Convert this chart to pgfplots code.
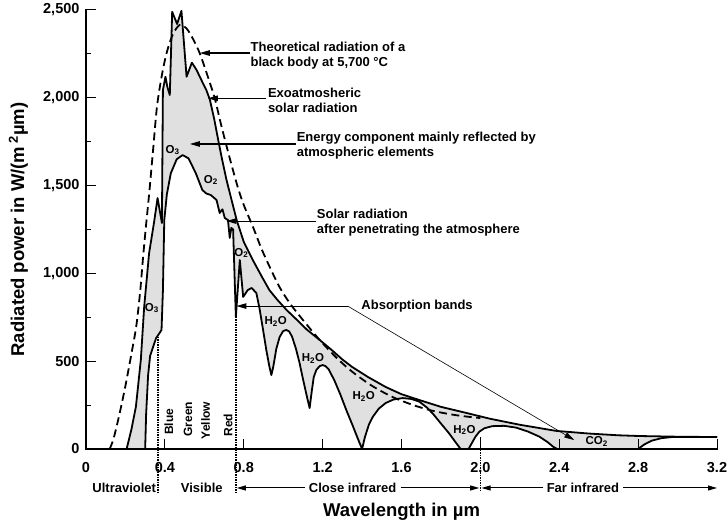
\documentclass[border=0pt]{standalone}
\usepackage{fontspec}
\setmainfont{Liberation Sans}
\usepackage{pgfplots}
\usepackage{pgfplotstable}
\pgfplotsset{compat=1.18}
\usepgfplotslibrary{fillbetween}
\usetikzlibrary{arrows.meta}
\definecolor{fillg}{RGB}{224,224,224}
\newcommand{\annfont}{\fontsize{13}{15}\selectfont\bfseries}
\newcommand{\chemfont}{\fontsize{11.5}{13}\selectfont\bfseries}
\newcommand{\colfont}{\fontsize{12}{14}\selectfont\bfseries}

% exoatmospheric solar radiation
\pgfplotstableread{
x y
0.206 0
0.23 110
0.253 240
0.278 507
0.295 809
0.32 1115
0.345 1290
0.363 1429
0.385 1287
0.39 2044
0.403 2120
0.413 2060
0.425 2016
0.437 2490
0.462 2420
0.484 2495
0.492 2380
0.51 2120
0.537 2200
0.56 2160
0.59 2090
0.61 2045
0.628 1990
0.65 1880
0.673 1745
0.69 1650
0.712 1535
0.74 1410
0.765 1300
0.80 1180
0.846 1076
0.89 985
0.93 905
0.97 850
1.017 792
1.07 735
1.12 680
1.185 621
1.25 560
1.30 510
1.35 467
1.43 410
1.52 353
1.60 312
1.69 279
1.80 240
1.93 205
2.05 172
2.2 138
2.385 103
2.55 88
2.7 78
2.805 74
3.0 70
3.2 68
}\exotab

% solar radiation after penetrating the atmosphere
\pgfplotstableread{
x y
0.30 0
0.305 200
0.315 420
0.325 530
0.355 630
0.383 678
0.39 900
0.397 1304
0.41 1450
0.43 1570
0.46 1650
0.49 1674
0.52 1655
0.557 1570
0.59 1475
0.61 1455
0.633 1446
0.662 1418
0.678 1344
0.692 1365
0.704 1315
0.72 1304
0.729 1202
0.737 1259
0.746 1250
0.76 752
0.78 1076
0.797 866
0.82 905
0.84 917
0.864 888
0.88 800
0.898 678
0.915 560
0.93 470
0.94 421
0.95 470
0.965 570
0.982 638
1.0 672
1.016 678
1.03 670
1.045 640
1.065 570
1.083 490
1.10 400
1.12 300
1.134 233
1.145 330
1.155 410
1.168 450
1.185 472
1.2 478
1.215 472
1.23 455
1.26 390
1.29 310
1.32 222
1.35 140
1.38 55
1.40 0
1.415 70
1.435 140
1.455 184
1.485 230
1.52 262
1.56 282
1.606 290
1.65 285
1.69 270
1.73 235
1.76 200
1.80 145
1.84 91
1.87 45
1.90 0
1.94 0
1.955 30
1.975 70
1.995 99
2.02 118
2.06 130
2.12 132
2.18 122
2.24 100
2.30 70
2.34 40
2.37 12
2.39 0
2.80 0
2.83 25
2.87 48
2.92 62
2.97 68
3.2 68
}\surftab

% theoretical black body
\pgfplotstableread{
x y
0.12 0
0.14 60
0.17 200
0.2 360
0.23 540
0.255 700
0.275 900
0.29 1100
0.305 1280
0.32 1450
0.34 1700
0.36 1950
0.385 2130
0.41 2260
0.44 2360
0.475 2415
0.51 2395
0.545 2330
0.577 2253
0.615 2130
0.653 1997
0.68 1870
0.709 1741
0.74 1610
0.77 1490
0.80 1390
0.847 1264
0.89 1140
0.932 1036
0.98 925
1.033 831
1.10 735
1.185 621
1.27 520
1.35 440
1.45 360
1.555 296
1.66 250
1.76 217
1.88 192
2.0 176
}\bbtab

\begin{document}
\begin{tikzpicture}
\begin{axis}[
  scale only axis, width=631pt, height=439pt,
  xmin=0, xmax=3.2, ymin=0, ymax=2500,
  axis lines*=left,
  axis line style={line width=2pt, line cap=rect},
  axis on top, clip=false,
  xtick={0,0.4,0.8,1.2,1.6,2.0,2.4,2.8,3.2},
  xticklabels={0,0.4,0.8,1.2,1.6,2.0,2.4,2.8,3.2},
  ytick={0,500,1000,1500,2000,2500},
  yticklabels={0,500,{1,000},{1,500},{2,000},{2,500}},
  minor ytick={250,750,1250,1750,2250},
  tick align=inside,
  major tick length=10pt, minor tick length=5pt,
  tick style={line width=1pt, black},
  ticklabel style={font=\fontsize{14.5}{16}\selectfont\bfseries},
  xticklabel style={yshift=-10pt},
  yticklabel style={xshift=-3pt},
  xlabel={Wavelength in µm},
  ylabel={Radiated power in W/(m\,\textsuperscript{2}µm)},
  every axis x label/.style={at={(axis description cs:0.5,0)}, anchor=base, yshift=-67.5pt, font=\fontsize{18.5}{20}\selectfont\bfseries},
  every axis y label/.style={at={(axis description cs:-0.107,0.5)}, rotate=90, anchor=center, font=\fontsize{18.5}{20}\selectfont\bfseries},
]
\addplot[draw=none, name path=exo] table {\exotab};
\addplot[draw=none, name path=surf] table {\surftab};
\addplot[fill=fillg, draw=none] fill between[of=exo and surf];
\addplot[black, line width=1.8pt, line join=round] table {\exotab};
\addplot[black, line width=1.8pt, line join=round] table {\surftab};
\addplot[black, line width=1.8pt, smooth, dash pattern=on 8pt off 4.5pt] table {\bbtab};

% dotted boundaries
\draw[black, line width=1.5pt, densely dotted] (axis cs:0.366,640) -- (axis cs:0.366,-245);
\draw[black, line width=1.5pt, densely dotted] (axis cs:0.76,752) -- (axis cs:0.76,-245);
\draw[black, line width=1.5pt, densely dotted] (axis cs:2.0,68) -- (axis cs:2.0,-245);

% annotations with arrows
\tikzset{ann/.style={line width=1.1pt, -{Triangle[length=10pt,width=5.5pt]}}}
\draw[ann] (axis cs:0.83,2255) -- (axis cs:0.577,2255);
\node[anchor=west, inner sep=0, align=left, font=\annfont] at (axis cs:0.834,2241) {Theoretical radiation of a\\black body at 5,700 °C};
\draw[ann] (axis cs:0.914,1997) -- (axis cs:0.618,1997);
\node[anchor=west, inner sep=0, align=left, font=\annfont] at (axis cs:0.922,1987) {Exoatmosheric\\solar radiation};
\draw[ann] (axis cs:1.063,1737) -- (axis cs:0.527,1737);
\node[anchor=west, inner sep=0, align=left, font=\annfont] at (axis cs:1.068,1728) {Energy component mainly reflected by\\atmospheric elements};
\draw[ann] (axis cs:1.168,1298) -- (axis cs:0.712,1298);
\node[anchor=west, inner sep=0, align=left, font=\annfont] at (axis cs:1.17,1287) {Solar radiation\\after penetrating the atmosphere};
\draw[ann] (axis cs:1.327,814) -- (axis cs:0.763,814);
\draw[line width=0.6pt, -{Triangle[length=10pt,width=5.5pt]}] (axis cs:1.327,814) -- (axis cs:2.476,51);
\node[anchor=west, inner sep=0, font=\annfont] at (axis cs:1.396,814) {Absorption bands};

% chemical labels
\node[font=\chemfont] at (axis cs:0.439,1703) {O\textsubscript{3}};
\node[font=\chemfont] at (axis cs:0.633,1532) {O\textsubscript{2}};
\node[font=\chemfont] at (axis cs:0.334,803) {O\textsubscript{3}};
\node[font=\chemfont] at (axis cs:0.788,1116) {O\textsubscript{2}};
\node[font=\chemfont] at (axis cs:0.962,725) {H\textsubscript{2}O};
\node[font=\chemfont] at (axis cs:1.151,517) {H\textsubscript{2}O};
\node[font=\chemfont] at (axis cs:1.408,298) {H\textsubscript{2}O};
\node[font=\chemfont] at (axis cs:1.919,108) {H\textsubscript{2}O};
\node[font=\chemfont] at (axis cs:2.59,45) {CO\textsubscript{2}};

% colour names
\node[rotate=90, anchor=west, inner sep=0, font=\colfont] at (axis cs:0.42,80) {Blue};
\node[rotate=90, anchor=west, inner sep=0, font=\colfont] at (axis cs:0.517,70) {Green};
\node[rotate=90, anchor=west, inner sep=0, font=\colfont] at (axis cs:0.607,55) {Yellow};
\node[rotate=90, anchor=west, inner sep=0, font=\colfont] at (axis cs:0.72,70) {Red};

% spectral ranges below the axis
\tikzset{rng/.style={line width=1pt, -{Triangle[length=9pt,width=5pt]}}}
\node[anchor=east, inner sep=0, font=\annfont] at (axis cs:0.356,-222) {Ultraviolet};
\node[font=\annfont] at (axis cs:0.587,-222) {Visible};
\draw[rng] (axis cs:1.11,-222) -- (axis cs:0.765,-222);
\node[font=\annfont] at (axis cs:1.352,-222) {Close infrared};
\draw[rng] (axis cs:1.595,-222) -- (axis cs:1.994,-222);
\draw[rng] (axis cs:2.32,-222) -- (axis cs:2.006,-222);
\node[font=\annfont] at (axis cs:2.52,-222) {Far infrared};
\draw[rng] (axis cs:2.725,-222) -- (axis cs:3.2,-222);
\end{axis}
\pgfresetboundingbox
\path[use as bounding box] (-86pt,-75pt) rectangle (641pt,449pt);
\end{tikzpicture}
\end{document}
